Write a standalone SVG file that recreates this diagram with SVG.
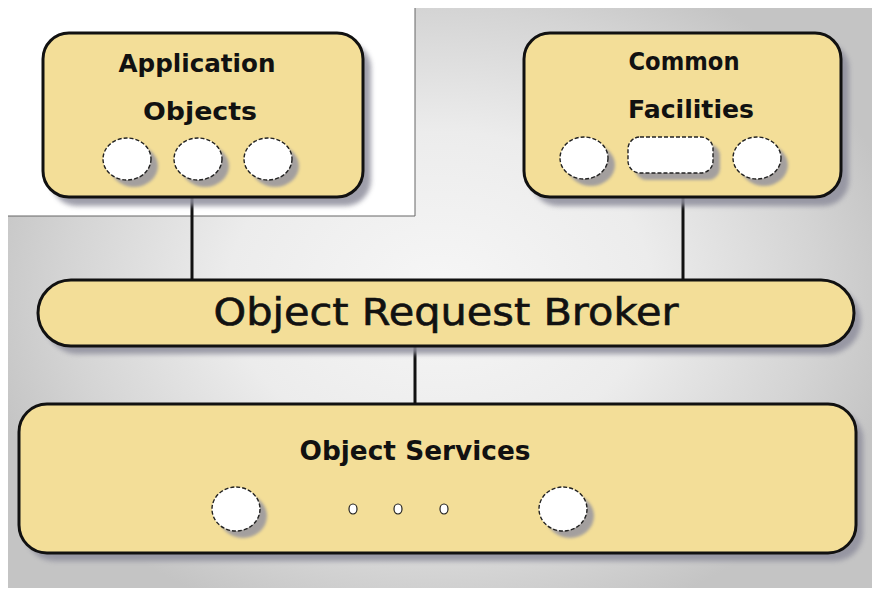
<svg xmlns="http://www.w3.org/2000/svg" width="872" height="591" viewBox="0 0 872 591">
<defs>
<radialGradient id="bg" cx="440" cy="290" r="470" gradientUnits="userSpaceOnUse" gradientTransform="translate(440 290) scale(1 0.75) translate(-440 -290)">
<stop offset="0" stop-color="#f6f6f6"/>
<stop offset="0.45" stop-color="#ececec"/>
<stop offset="0.8" stop-color="#d4d4d4"/>
<stop offset="1" stop-color="#c4c4c4"/>
</radialGradient>
<filter id="blur" x="-10%" y="-10%" width="120%" height="120%"><feGaussianBlur stdDeviation="2.5"/></filter>
<filter id="blur2" x="-30%" y="-30%" width="160%" height="160%"><feGaussianBlur stdDeviation="1.8"/></filter>
</defs>
<style>
.box{fill:#f3de98;stroke:#111;stroke-width:3}
.shadow{fill:#8e8e9c;opacity:0.85;filter:url(#blur)}
.oval{fill:#ffffff;stroke:#222;stroke-width:1.4;stroke-dasharray:4 2}
.oshadow{fill:#9090a0;opacity:0.8;filter:url(#blur2)}
.lbl{font-family:"DejaVu Sans","Liberation Sans",sans-serif;font-weight:bold;fill:#111;text-anchor:middle}
.big{font-family:"DejaVu Sans","Liberation Sans",sans-serif;fill:#111;text-anchor:middle;stroke:#111;stroke-width:0.6}
.conn{stroke:#111;stroke-width:3;fill:none}
</style>
<rect x="0" y="0" width="872" height="591" fill="#ffffff"/>
<rect x="8" y="8" width="864" height="580" fill="url(#bg)"/>
<path d="M0 0 H415 V216 H0 Z" fill="#ffffff"/>
<path d="M415 8 V216 H8" fill="none" stroke="#666" stroke-width="1"/>

<g id="connectors">
<line class="conn" x1="192" y1="197" x2="192" y2="280"/>
<line class="conn" x1="683" y1="197" x2="683" y2="280"/>
<line class="conn" x1="415" y1="346" x2="415" y2="404"/>
</g>

<g id="application-objects">
<rect class="shadow" x="51" y="42" width="320" height="164" rx="26"/>
<rect class="box" x="43" y="33" width="320" height="164" rx="26"/>
<text class="lbl" x="197" y="72" font-size="24" textLength="157" lengthAdjust="spacingAndGlyphs">Application</text>
<text class="lbl" x="200" y="120" font-size="24" textLength="114" lengthAdjust="spacingAndGlyphs">Objects</text>
<ellipse class="oshadow" cx="134" cy="166" rx="24" ry="21"/>
<ellipse class="oshadow" cx="205" cy="166" rx="24" ry="21"/>
<ellipse class="oshadow" cx="275" cy="166" rx="24" ry="21"/>
<ellipse class="oval" cx="127" cy="159" rx="24" ry="21"/>
<ellipse class="oval" cx="198" cy="159" rx="24" ry="21"/>
<ellipse class="oval" cx="268" cy="159" rx="24" ry="21"/>
</g>

<g id="common-facilities">
<rect class="shadow" x="532" y="42" width="317" height="164" rx="26"/>
<rect class="box" x="524" y="33" width="317" height="164" rx="26"/>
<text class="lbl" x="684" y="70" font-size="24" textLength="111" lengthAdjust="spacingAndGlyphs">Common</text>
<text class="lbl" x="691" y="118" font-size="24" textLength="126" lengthAdjust="spacingAndGlyphs">Facilities</text>
<ellipse class="oshadow" cx="591" cy="165" rx="24" ry="21"/>
<rect class="oshadow" x="635" y="144" width="85" height="36" rx="12"/>
<ellipse class="oshadow" cx="764" cy="165" rx="24" ry="21"/>
<ellipse class="oval" cx="584" cy="158" rx="24" ry="21"/>
<rect class="oval" x="628" y="137" width="85" height="36" rx="12" stroke-dasharray="none"/>
<ellipse class="oval" cx="757" cy="158" rx="24" ry="21"/>
</g>

<g id="orb">
<rect class="shadow" x="45" y="287" width="816" height="67" rx="33"/>
<rect class="box" x="38" y="280" width="816" height="66" rx="33"/>
<text class="big" x="446" y="325" font-size="37" textLength="465" lengthAdjust="spacingAndGlyphs">Object Request Broker</text>
</g>

<g id="object-services">
<rect class="shadow" x="26" y="411" width="837" height="150" rx="28"/>
<rect class="box" x="19" y="404" width="837" height="149" rx="28"/>
<text class="lbl" x="415" y="460" font-size="27" textLength="231" lengthAdjust="spacingAndGlyphs">Object Services</text>
<ellipse class="oshadow" cx="243" cy="516" rx="24" ry="22"/>
<ellipse class="oshadow" cx="570" cy="516" rx="24" ry="22"/>
<ellipse class="oval" cx="236" cy="509" rx="24" ry="22"/>
<ellipse class="oval" cx="563" cy="509" rx="24" ry="22"/>
<ellipse cx="353" cy="509" rx="4" ry="5" fill="#fff" stroke="#222" stroke-width="1.2"/>
<ellipse cx="398" cy="509" rx="4" ry="5" fill="#fff" stroke="#222" stroke-width="1.2"/>
<ellipse cx="444" cy="509" rx="4" ry="5" fill="#fff" stroke="#222" stroke-width="1.2"/>
</g>
</svg>
